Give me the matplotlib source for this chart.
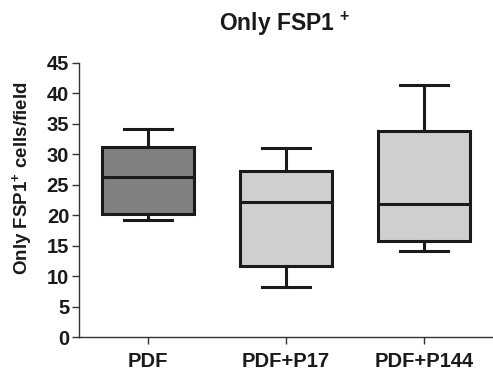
import matplotlib
matplotlib.use('Agg')
import matplotlib.pyplot as plt

# Box plot summary values
groups = ['PDF', 'PDF+P17', 'PDF+P144']
whisker_low = [19.2, 8.2, 14.2]
q1 = [20.2, 11.6, 15.7]
median = [26.2, 22.1, 21.8]
q3 = [31.2, 27.2, 33.8]
whisker_high = [34.2, 31.1, 41.3]
box_colors = ['#808080', '#cfcfcf', '#cfcfcf']
yticks = list(range(0, 50, 5))

plt.rcParams['font.family'] = 'Liberation Sans'
plt.rcParams['font.weight'] = 'bold'
plt.rcParams['mathtext.fontset'] = 'custom'
plt.rcParams['mathtext.rm'] = 'Liberation Sans:bold'
plt.rcParams['mathtext.bf'] = 'Liberation Sans:bold'
plt.rcParams['mathtext.it'] = 'Liberation Sans:bold'

fig = plt.figure(figsize=(4.93, 3.72), dpi=100)
ax = fig.add_axes([0.160, 0.094, 0.840, 0.737])

stats = []
for i, g in enumerate(groups):
    stats.append({'label': g, 'whislo': whisker_low[i], 'q1': q1[i], 'med': median[i],
                  'q3': q3[i], 'whishi': whisker_high[i], 'fliers': []})

lw = 2.2
ink = '#1a1a1a'
bp = ax.bxp(stats, positions=[1, 2, 3], widths=0.67, patch_artist=True, showfliers=False,
            capwidths=0.35,
            boxprops=dict(linewidth=lw, edgecolor=ink),
            medianprops=dict(linewidth=lw, color=ink),
            whiskerprops=dict(linewidth=lw, color=ink),
            capprops=dict(linewidth=lw, color=ink))
for patch, c in zip(bp['boxes'], box_colors):
    patch.set_facecolor(c)

ax.set_xlim(0.5, 3.5)
ax.set_ylim(0, 45)
ax.set_yticks(yticks)
ax.set_xticks([1, 2, 3])
ax.set_xticklabels(groups)
ax.tick_params(labelsize=14.5, width=1, length=5, color='#333333', labelcolor=ink)
ax.tick_params(axis='x', pad=6)
ax.tick_params(axis='y', pad=2)
for s in ['top', 'right']:
    ax.spines[s].set_visible(False)
for s in ['left', 'bottom']:
    ax.spines[s].set_color('#333333')
    ax.spines[s].set_linewidth(1)

ax.set_ylabel('Only FSP1$^{+}$ cells/field', fontsize=13.5, fontweight='bold', color=ink)
ax.yaxis.set_label_coords(-0.108, 0.58)
fig.text(0.578, 0.935, 'Only FSP1 $^{+}$', fontsize=16.5, fontweight='bold', color=ink,
         ha='center', va='center')

plt.savefig('out.png', dpi=100)
